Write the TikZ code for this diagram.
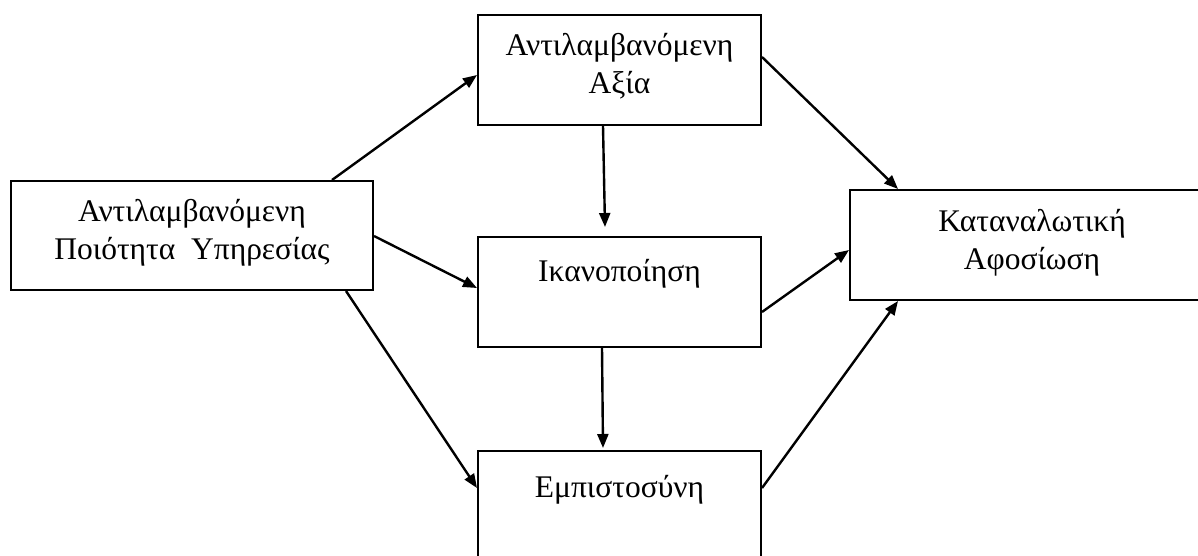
\documentclass[tikz,border=0pt]{standalone}
\usepackage{fontspec}
\setmainfont{Liberation Serif}
\usetikzlibrary{arrows.meta}
\newcommand{\boxtext}[4]{\parbox[c][#1pt][t]{#2pt}{\centering\fontsize{31.5}{38}\selectfont\rule{0pt}{#3pt}#4}}
\tikzset{
  box/.style={draw, line width=2pt, rectangle, inner sep=0pt, anchor=north west},
  arr/.style={line width=2.4pt, -{Triangle[length=14pt,width=11pt]}}
}
\begin{document}
\begin{tikzpicture}[x=1pt,y=-1pt]
\useasboundingbox (0,0) rectangle (1198,556);
\clip (0,0) rectangle (1198,556);
\node[box] (A) at (10,180) {\boxtext{109}{362}{40}{Αντιλαμβανόμενη\\Ποιότητα\ \ Υπηρεσίας}};
\node[box] (B) at (477,14) {\boxtext{110}{283}{41}{Αντιλαμβανόμενη\\Αξία}};
\node[box] (C) at (477,236) {\boxtext{110}{283}{44}{Ικανοποίηση}};
\node[box] (D) at (477,450) {\boxtext{110}{283}{46}{Εμπιστοσύνη}};
\node[box] (E) at (849,189) {\boxtext{110}{364}{41}{Καταναλωτική\\Αφοσίωση}};
\draw[arr] ([xshift=322pt]A.north west) -- ([yshift=-61pt]B.north west);
\draw[arr] ([yshift=-56pt]A.north east) -- ([yshift=-52pt]C.north west);
\draw[arr] ([xshift=-28pt]A.south east) -- ([yshift=-38pt]D.north west);
\draw[arr] ([xshift=126pt]B.south west) -- ([xshift=128pt,yshift=9pt]C.north west);
\draw[arr] ([yshift=-43pt]B.north east) -- ([xshift=49pt]E.north west);
\draw[arr] ([yshift=-76pt]C.north east) -- ([yshift=-61pt]E.north west);
\draw[arr] ([xshift=125pt]C.south west) -- ([xshift=126pt,yshift=2pt]D.north west);
\draw[arr] ([yshift=-38pt]D.north east) -- ([xshift=49pt]E.south west);
\end{tikzpicture}
\end{document}
